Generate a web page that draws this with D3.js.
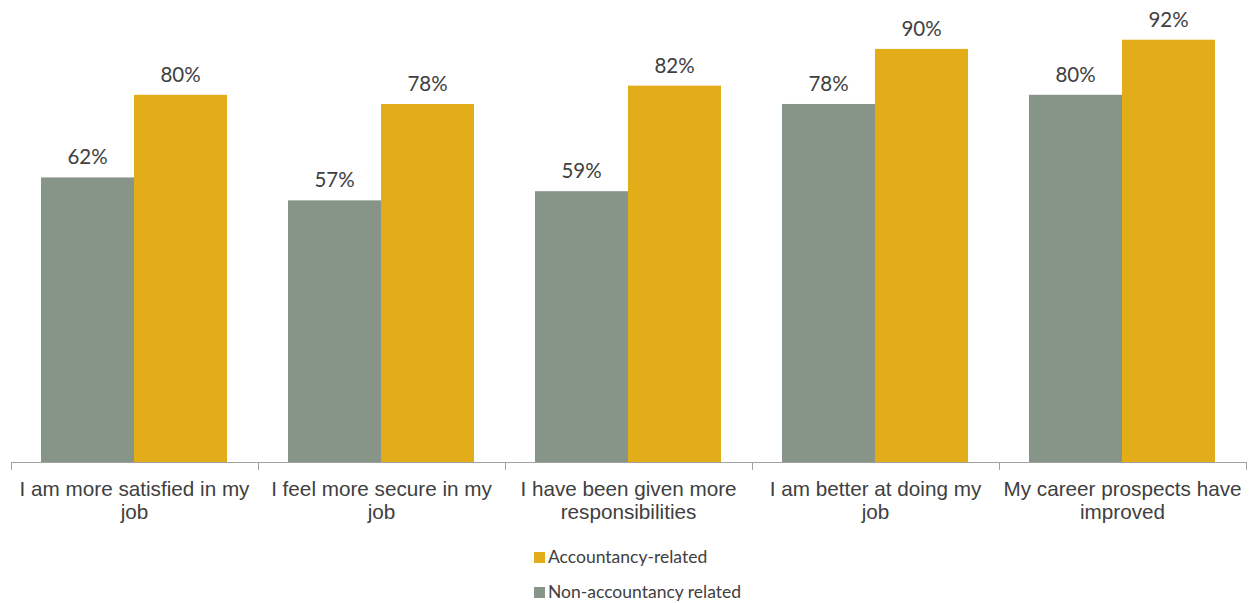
<!DOCTYPE html>
<html>
<head>
<meta charset="utf-8">
<script src="https://cdn.jsdelivr.net/npm/d3@7"></script>
<style>
  body { margin: 0; background: #fff; }
</style>
</head>
<body>
<div id="chart"></div>
<script>
const categories = [
  'I am more satisfied in my job',
  'I feel more secure in my job',
  'I have been given more responsibilities',
  'I am better at doing my job',
  'My career prospects have improved'
];
const labelLines = [
  ['I am more satisfied in my', 'job'],
  ['I feel more secure in my', 'job'],
  ['I have been given more', 'responsibilities'],
  ['I am better at doing my', 'job'],
  ['My career prospects have', 'improved']
];
const seriesNames = ['Non-accountancy related', 'Accountancy-related'];
const nonAccountancy = [0.62, 0.57, 0.59, 0.78, 0.80];
const accountancy = [0.80, 0.78, 0.82, 0.90, 0.92];

const width = 1251;
const height = 603;
const baseY = 462;

const svg = d3.select('#chart')
  .append('svg')
  .attr('width', width)
  .attr('height', height);

const x = d3.scaleBand()
  .domain(categories)
  .range([11, 1246]);

const x1 = d3.scaleBand()
  .domain(seriesNames)
  .range([30, x.bandwidth() - 31]);

const y = d3.scaleLinear()
  .domain([0, 1])
  .range([baseY, 3]);

const color = d3.scaleOrdinal()
  .domain(seriesNames)
  .range(['#879488', '#E3AC19']);

const rows = categories.map((c, i) => ({
  cat: c,
  values: [
    {name: seriesNames[0], v: nonAccountancy[i]},
    {name: seriesNames[1], v: accountancy[i]}
  ]
}));

const groups = svg.selectAll('.grp')
  .data(rows)
  .enter()
  .append('g')
  .attr('class', 'grp')
  .attr('transform', d => `translate(${x(d.cat)},0)`);

groups.selectAll('rect')
  .data(d => d.values)
  .enter()
  .append('rect')
  .attr('x', d => x1(d.name))
  .attr('y', d => y(d.v))
  .attr('width', x1.bandwidth())
  .attr('height', d => baseY - y(d.v))
  .attr('fill', d => color(d.name));

groups.selectAll('.val')
  .data(d => d.values)
  .enter()
  .append('text')
  .attr('class', 'val')
  .attr('x', d => x1(d.name) + x1.bandwidth() / 2)
  .attr('y', d => y(d.v) - 13)
  .attr('text-anchor', 'middle')
  .attr('font-family', 'Lato, "Open Sans", sans-serif')
  .attr('font-size', 20.5)
  .attr('fill', '#404040')
  .text(d => d3.format('.0%')(d.v));

// axis
const axis = svg.append('g')
  .attr('transform', `translate(0,${baseY})`)
  .call(d3.axisBottom(x).tickSize(0).tickFormat(''));
axis.select('.domain').attr('stroke', '#a0a0a0').attr('d', `M11,0.5H1246`);

const tickPos = d3.range(categories.length + 1).map(i => 11 + i * x.step());
svg.selectAll('.tk')
  .data(tickPos)
  .enter()
  .append('line')
  .attr('x1', d => Math.round(d) + 0.5)
  .attr('x2', d => Math.round(d) + 0.5)
  .attr('y1', baseY)
  .attr('y2', baseY + 8)
  .attr('stroke', '#a0a0a0');

const catText = svg.selectAll('.cat')
  .data(categories)
  .enter()
  .append('text')
  .attr('class', 'cat')
  .attr('x', d => x(d) + x.bandwidth() / 2)
  .attr('y', 496)
  .attr('text-anchor', 'middle')
  .attr('font-family', '"Liberation Sans", Arial, sans-serif')
  .attr('font-size', 20.7)
  .attr('fill', '#404040');

catText.selectAll('tspan')
  .data((d, i) => labelLines[i])
  .enter()
  .append('tspan')
  .attr('x', function() { return d3.select(this.parentNode).attr('x'); })
  .attr('dy', (d, i) => i === 0 ? 0 : 23)
  .text(d => d);

// legend
const legendItems = [seriesNames[1], seriesNames[0]];
const legend = svg.selectAll('.leg')
  .data(legendItems)
  .enter()
  .append('g')
  .attr('class', 'leg')
  .attr('transform', (d, i) => `translate(534,${552 + i * 35})`);

legend.append('rect')
  .attr('width', 11)
  .attr('height', 11)
  .attr('fill', d => color(d));

legend.append('text')
  .attr('x', 14)
  .attr('y', 11)
  .attr('font-family', 'Lato, "Open Sans", sans-serif')
  .attr('font-size', 17.5)
  .attr('fill', '#404040')
  .text(d => d);
</script>
</body>
</html>
